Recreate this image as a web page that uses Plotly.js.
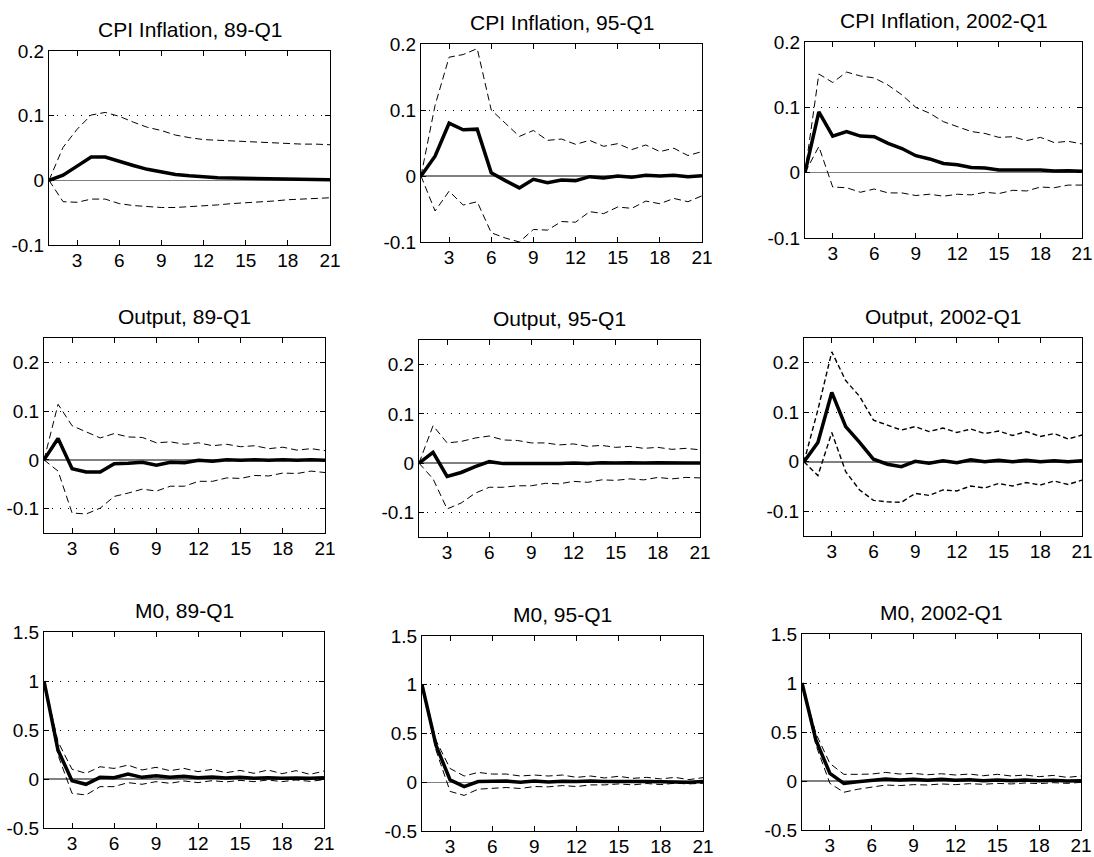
<!DOCTYPE html>
<html>
<head>
<meta charset="utf-8">
<script src="https://cdn.plot.ly/plotly-3.0.1.min.js"></script>
<style>html,body{margin:0;padding:0;background:#fff;overflow:hidden;}#chart{width:1094px;height:857px;}</style>
</head>
<body>
<div id="chart"></div>
<script>
// Horizon (quarters)
const horizon = [1,2,3,4,5,6,7,8,9,10,11,12,13,14,15,16,17,18,19,20,21];
const xTickVals = [3,6,9,12,15,18,21];
const xTickText = ["3","6","9","12","15","18","21"];

const panelTitles = [
  "CPI Inflation, 89-Q1","CPI Inflation, 95-Q1","CPI Inflation, 2002-Q1",
  "Output, 89-Q1","Output, 95-Q1","Output, 2002-Q1",
  "M0, 89-Q1","M0, 95-Q1","M0, 2002-Q1"
];

// Y tick labels per row
const cpiTickVals = [-0.1,0,0.1,0.2];
const cpiTickText = ["-0.1","0","0.1","0.2"];
const outTickVals = [-0.1,0,0.1,0.2];
const outTickText = ["-0.1","0","0.1","0.2"];
const m0TickVals = [-0.5,0,0.5,1,1.5];
const m0TickText = ["-0.5","0","0.5","1","1.5"];

// CPI Inflation
const cpi89_med = [0,0.008,0.022,0.036,0.036,0.029,0.023,0.017,0.013,0.009,0.007,0.005,0.004,0.0035,0.003,0.0025,0.0025,0.002,0.0015,0.0015,0.001];
const cpi89_up  = [0,0.051,0.079,0.101,0.105,0.099,0.090,0.082,0.077,0.070,0.066,0.063,0.062,0.061,0.060,0.058,0.057,0.057,0.056,0.056,0.055];
const cpi89_lo  = [0,-0.033,-0.034,-0.029,-0.029,-0.036,-0.039,-0.041,-0.042,-0.042,-0.041,-0.040,-0.038,-0.036,-0.035,-0.033,-0.032,-0.030,-0.029,-0.028,-0.027];

const cpi95_med = [0,0.030,0.080,0.070,0.071,0.005,-0.007,-0.018,-0.005,-0.010,-0.006,-0.007,-0.001,-0.003,0,-0.002,0.001,0,0.001,-0.001,0.0005];
const cpi95_up  = [0,0.107,0.180,0.184,0.193,0.100,0.080,0.060,0.069,0.054,0.056,0.048,0.054,0.045,0.049,0.040,0.047,0.037,0.042,0.031,0.037];
const cpi95_lo  = [0,-0.053,-0.023,-0.044,-0.039,-0.086,-0.094,-0.100,-0.081,-0.082,-0.069,-0.070,-0.054,-0.057,-0.047,-0.049,-0.038,-0.042,-0.034,-0.039,-0.030];

const cpi02_med = [0,0.093,0.056,0.063,0.056,0.055,0.045,0.037,0.026,0.021,0.014,0.012,0.008,0.007,0.004,0.004,0.003,0.004,0.0025,0.003,0.002];
const cpi02_up  = [0,0.151,0.138,0.154,0.148,0.145,0.134,0.119,0.100,0.091,0.078,0.071,0.063,0.060,0.054,0.055,0.049,0.054,0.046,0.048,0.044];
const cpi02_lo  = [0,0.040,-0.022,-0.023,-0.030,-0.025,-0.031,-0.031,-0.035,-0.033,-0.036,-0.033,-0.034,-0.030,-0.032,-0.027,-0.028,-0.022,-0.023,-0.019,-0.019];

// Output
const out89_med = [0,0.044,-0.018,-0.025,-0.025,-0.008,-0.007,-0.005,-0.011,-0.005,-0.006,-0.001,-0.003,0,-0.001,0,-0.001,0,-0.001,0,-0.001];
const out89_up  = [0,0.114,0.070,0.057,0.045,0.054,0.047,0.046,0.035,0.037,0.032,0.035,0.029,0.032,0.027,0.029,0.023,0.026,0.020,0.023,0.019];
const out89_lo  = [0,-0.023,-0.109,-0.111,-0.099,-0.075,-0.068,-0.060,-0.064,-0.054,-0.054,-0.044,-0.044,-0.037,-0.038,-0.032,-0.033,-0.027,-0.028,-0.023,-0.026];

const out95_med = [0,0.022,-0.027,-0.019,-0.007,0.003,-0.001,-0.001,-0.002,-0.001,-0.001,0,-0.001,0.001,0,0.001,0,0.001,0,0,0];
const out95_up  = [0,0.076,0.041,0.044,0.051,0.055,0.047,0.046,0.041,0.041,0.037,0.039,0.034,0.036,0.032,0.034,0.030,0.032,0.028,0.030,0.027];
const out95_lo  = [0,-0.032,-0.093,-0.081,-0.061,-0.049,-0.049,-0.046,-0.046,-0.041,-0.042,-0.037,-0.039,-0.034,-0.035,-0.032,-0.034,-0.029,-0.032,-0.029,-0.030];

const out02_med = [0,0.039,0.140,0.071,0.039,0.005,-0.005,-0.010,0.001,-0.003,0.002,-0.002,0.004,0,0.003,0,0.003,0,0.002,0,0.002];
const out02_up  = [0,0.105,0.222,0.164,0.132,0.084,0.074,0.064,0.071,0.061,0.068,0.059,0.066,0.057,0.062,0.053,0.061,0.051,0.057,0.046,0.054];
const out02_lo  = [0,-0.028,0.059,-0.020,-0.057,-0.078,-0.081,-0.082,-0.064,-0.068,-0.057,-0.059,-0.049,-0.053,-0.044,-0.049,-0.042,-0.047,-0.039,-0.046,-0.037];

// M0
const m089_med = [1,0.295,-0.017,-0.054,0.017,0.014,0.051,0.017,0.034,0.017,0.027,0.014,0.020,0.010,0.017,0.007,0.014,0.007,0.010,0.007,0.014];
const m089_up  = [1,0.380,0.100,0.058,0.125,0.108,0.142,0.092,0.119,0.085,0.108,0.075,0.098,0.064,0.088,0.058,0.092,0.054,0.085,0.047,0.081];
const m089_lo  = [1,0.244,-0.146,-0.163,-0.078,-0.078,-0.037,-0.054,-0.027,-0.044,-0.020,-0.037,-0.017,-0.030,-0.014,-0.027,-0.010,-0.027,-0.010,-0.024,-0.007];

const m095_med = [1,0.377,0.024,-0.044,0.007,0.010,0.013,0,0.013,0.003,0.010,0.007,0.013,0.007,0.010,0.007,0.007,0.003,0.007,0,0.007];
const m095_up  = [1,0.428,0.141,0.064,0.101,0.084,0.084,0.064,0.074,0.064,0.074,0.050,0.064,0.044,0.061,0.040,0.050,0.034,0.050,0.027,0.047];
const m095_lo  = [1,0.327,-0.094,-0.135,-0.071,-0.064,-0.054,-0.064,-0.044,-0.047,-0.034,-0.044,-0.027,-0.027,-0.017,-0.027,-0.013,-0.024,-0.010,-0.017,-0.010];

const m002_med = [1,0.416,0.078,-0.024,-0.007,0.003,0.020,0.010,0.017,0.007,0.017,0.007,0.014,0.003,0.010,0.003,0.010,0.003,0.007,0,0.003];
const m002_up  = [1,0.483,0.179,0.068,0.068,0.071,0.088,0.071,0.078,0.064,0.074,0.061,0.071,0.054,0.068,0.051,0.061,0.044,0.057,0.037,0.051];
const m002_lo  = [1,0.365,-0.024,-0.115,-0.084,-0.064,-0.041,-0.047,-0.037,-0.041,-0.030,-0.037,-0.027,-0.034,-0.024,-0.030,-0.020,-0.027,-0.017,-0.024,-0.014];

const panelData = [
  [cpi89_med,cpi89_up,cpi89_lo],[cpi95_med,cpi95_up,cpi95_lo],[cpi02_med,cpi02_up,cpi02_lo],
  [out89_med,out89_up,out89_lo],[out95_med,out95_up,out95_lo],[out02_med,out02_up,out02_lo],
  [m089_med,m089_up,m089_lo],[m095_med,m095_up,m095_lo],[m002_med,m002_up,m002_lo]
];

// Layout geometry (pixels)
const W = 1094, H = 857;
const boxes = [
  [49,330,51,245],[421,702,44,242],[805,1082,42,238],
  [44,325,338,533],[419,700,340,537],[804,1082,338,536],
  [44,324,632,828],[422,703,636,831],[802,1081,634,830]
];
const yRanges = [[-0.1,0.2],[-0.1,0.2],[-0.1,0.2],[-0.15,0.25],[-0.15,0.25],[-0.15,0.25],[-0.5,1.5],[-0.5,1.5],[-0.5,1.5]];
const yTicks = [
  [cpiTickVals,cpiTickText],[cpiTickVals,cpiTickText],[cpiTickVals,cpiTickText],
  [outTickVals,outTickText],[outTickVals,outTickText],[outTickVals,outTickText],
  [m0TickVals,m0TickText],[m0TickVals,m0TickText],[m0TickVals,m0TickText]
];

const fam = "Liberation Sans, Arial, sans-serif";
const font = {family: fam, size: 19, color: "#000"};
const traces = [];
const layout = {
  width: W, height: H,
  margin: {l:0,r:0,t:0,b:0},
  paper_bgcolor: "#fff", plot_bgcolor: "#fff",
  showlegend: false, hovermode: false,
  font: font,
  annotations: []
};

for (let i = 0; i < 9; i++) {
  const n = i === 0 ? "" : String(i+1);
  const xa = "x" + n, ya = "y" + n;
  const [l,r,t,b] = boxes[i];
  const dashW = i === 5 ? 1.4 : 1;
  const dashP = i === 5 ? "5px,3px" : "7px,4px";
  const [med, up, lo] = panelData[i];
  traces.push({x: horizon, y: up, xaxis: xa, yaxis: ya, mode: "lines", line: {color: "#000", width: dashW, dash: dashP}});
  traces.push({x: horizon, y: lo, xaxis: xa, yaxis: ya, mode: "lines", line: {color: "#000", width: dashW, dash: dashP}});
  traces.push({x: horizon, y: med, xaxis: xa, yaxis: ya, mode: "lines", line: {color: "#000", width: 3.5}});

  layout["xaxis" + n] = {
    domain: [l/W, r/W], anchor: ya, range: [1,21],
    tickvals: xTickVals, ticktext: xTickText,
    ticks: "inside", ticklen: 5, tickcolor: "#000", mirror: "ticks",
    showline: true, linecolor: "#000", linewidth: 1,
    showgrid: false, zeroline: false, fixedrange: true,
    ticklabeloverflow: "allow", ticklabelstandoff: -2,
    tickfont: font
  };
  layout["yaxis" + n] = {
    domain: [1 - b/H, 1 - t/H], anchor: xa, range: yRanges[i],
    tickvals: yTicks[i][0], ticktext: yTicks[i][1],
    ticks: "inside", ticklen: 5, tickcolor: "#000", mirror: "ticks",
    showline: true, linecolor: "#000", linewidth: 1,
    showgrid: true, gridcolor: "#000", gridwidth: 1, griddash: "1px,7px",
    zeroline: true, zerolinecolor: "#808080", zerolinewidth: 1.5,
    ticklabeloverflow: "allow",
    fixedrange: true, tickfont: font
  };
  layout.annotations.push({
    text: panelTitles[i], xref: "paper", yref: "paper",
    x: (l + r) / 2 / W, y: 1 - t / H, xanchor: "center", yanchor: "bottom",
    yshift: 8, showarrow: false,
    font: {family: fam, size: 21, color: "#000"}
  });
}

Plotly.newPlot("chart", traces, layout, {staticPlot: true, displayModeBar: false});
</script>
</body>
</html>
